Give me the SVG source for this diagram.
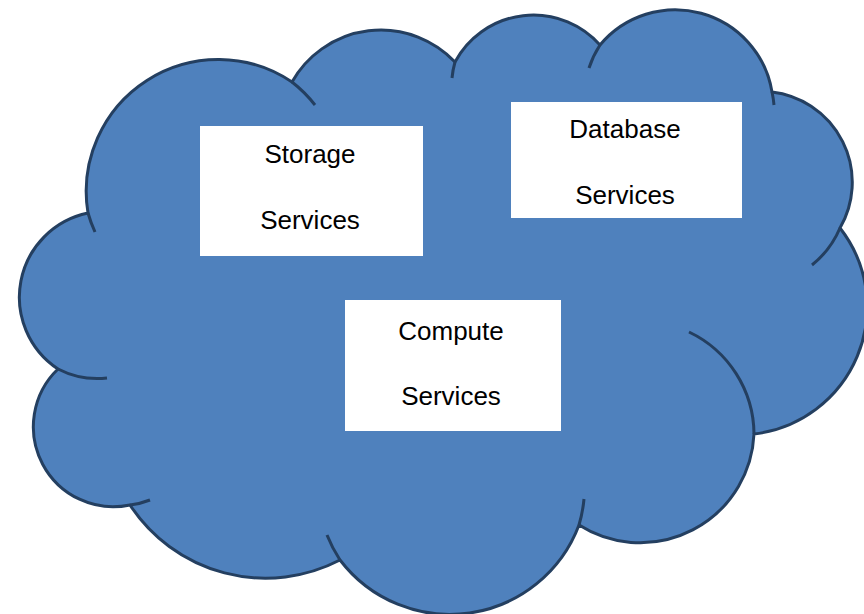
<svg xmlns="http://www.w3.org/2000/svg" width="864" height="614" viewBox="0 0 864 614">
  <style>
    .cloud { fill: #4F81BD; stroke: #243F60; stroke-width: 3; stroke-linejoin: round; }
    .crease { fill: none; stroke: #243F60; stroke-width: 3; stroke-linecap: butt; }
    .box { fill: #FFFFFF; stroke: none; }
    .label { font-family: "Liberation Sans", Arial, sans-serif; font-size: 26px; fill: #000000; text-anchor: middle; }
  </style>
  <rect x="0" y="0" width="864" height="614" fill="#FFFFFF"/>
  <g id="cloud">
    <path class="cloud" d="M 88 213 A 132 132 0 0 1 292 82 A 102 102 0 0 1 455 62 A 89 89 0 0 1 600 45 A 98 98 0 0 1 772 92 A 91 91 0 0 1 840 228 A 128 128 0 0 1 754 434 A 114 114 0 0 1 579 525 A 138 138 0 0 1 340 560 A 162 162 0 0 1 130 505 A 80 80 0 0 1 58 369 A 86 86 0 0 1 88 213 Z"/>
    <path class="crease" d="M 88 213 A 132 132 0 0 0 95 232"/>
    <path class="crease" d="M 292 82 A 132 132 0 0 1 315 105"/>
    <path class="crease" d="M 455 62 A 89 89 0 0 0 452 78"/>
    <path class="crease" d="M 600 45 A 98 98 0 0 0 589 68"/>
    <path class="crease" d="M 772 92 A 98 98 0 0 1 774 105"/>
    <path class="crease" d="M 840 228 A 95 95 0 0 1 812 265"/>
    <path class="crease" d="M 689 332 A 114 114 0 0 1 754 434"/>
    <path class="crease" d="M 584 499 A 138 138 0 0 1 579 525"/>
    <path class="crease" d="M 340 560 A 138 138 0 0 1 327 535"/>
    <path class="crease" d="M 150 500 A 80 80 0 0 1 130 505"/>
    <path class="crease" d="M 107 378 A 86 86 0 0 1 58 369"/>
  </g>
  <g id="connectors"></g>
  <g id="storage">
    <rect class="box" x="200" y="126" width="223" height="130"/>
    <text class="label" x="310" y="163">Storage</text>
    <text class="label" x="310" y="229">Services</text>
  </g>
  <g id="database">
    <rect class="box" x="511" y="102" width="231" height="116"/>
    <text class="label" x="625" y="138">Database</text>
    <text class="label" x="625" y="204">Services</text>
  </g>
  <g id="compute">
    <rect class="box" x="345" y="300" width="216" height="131"/>
    <text class="label" x="451" y="340">Compute</text>
    <text class="label" x="451" y="405">Services</text>
  </g>
</svg>
